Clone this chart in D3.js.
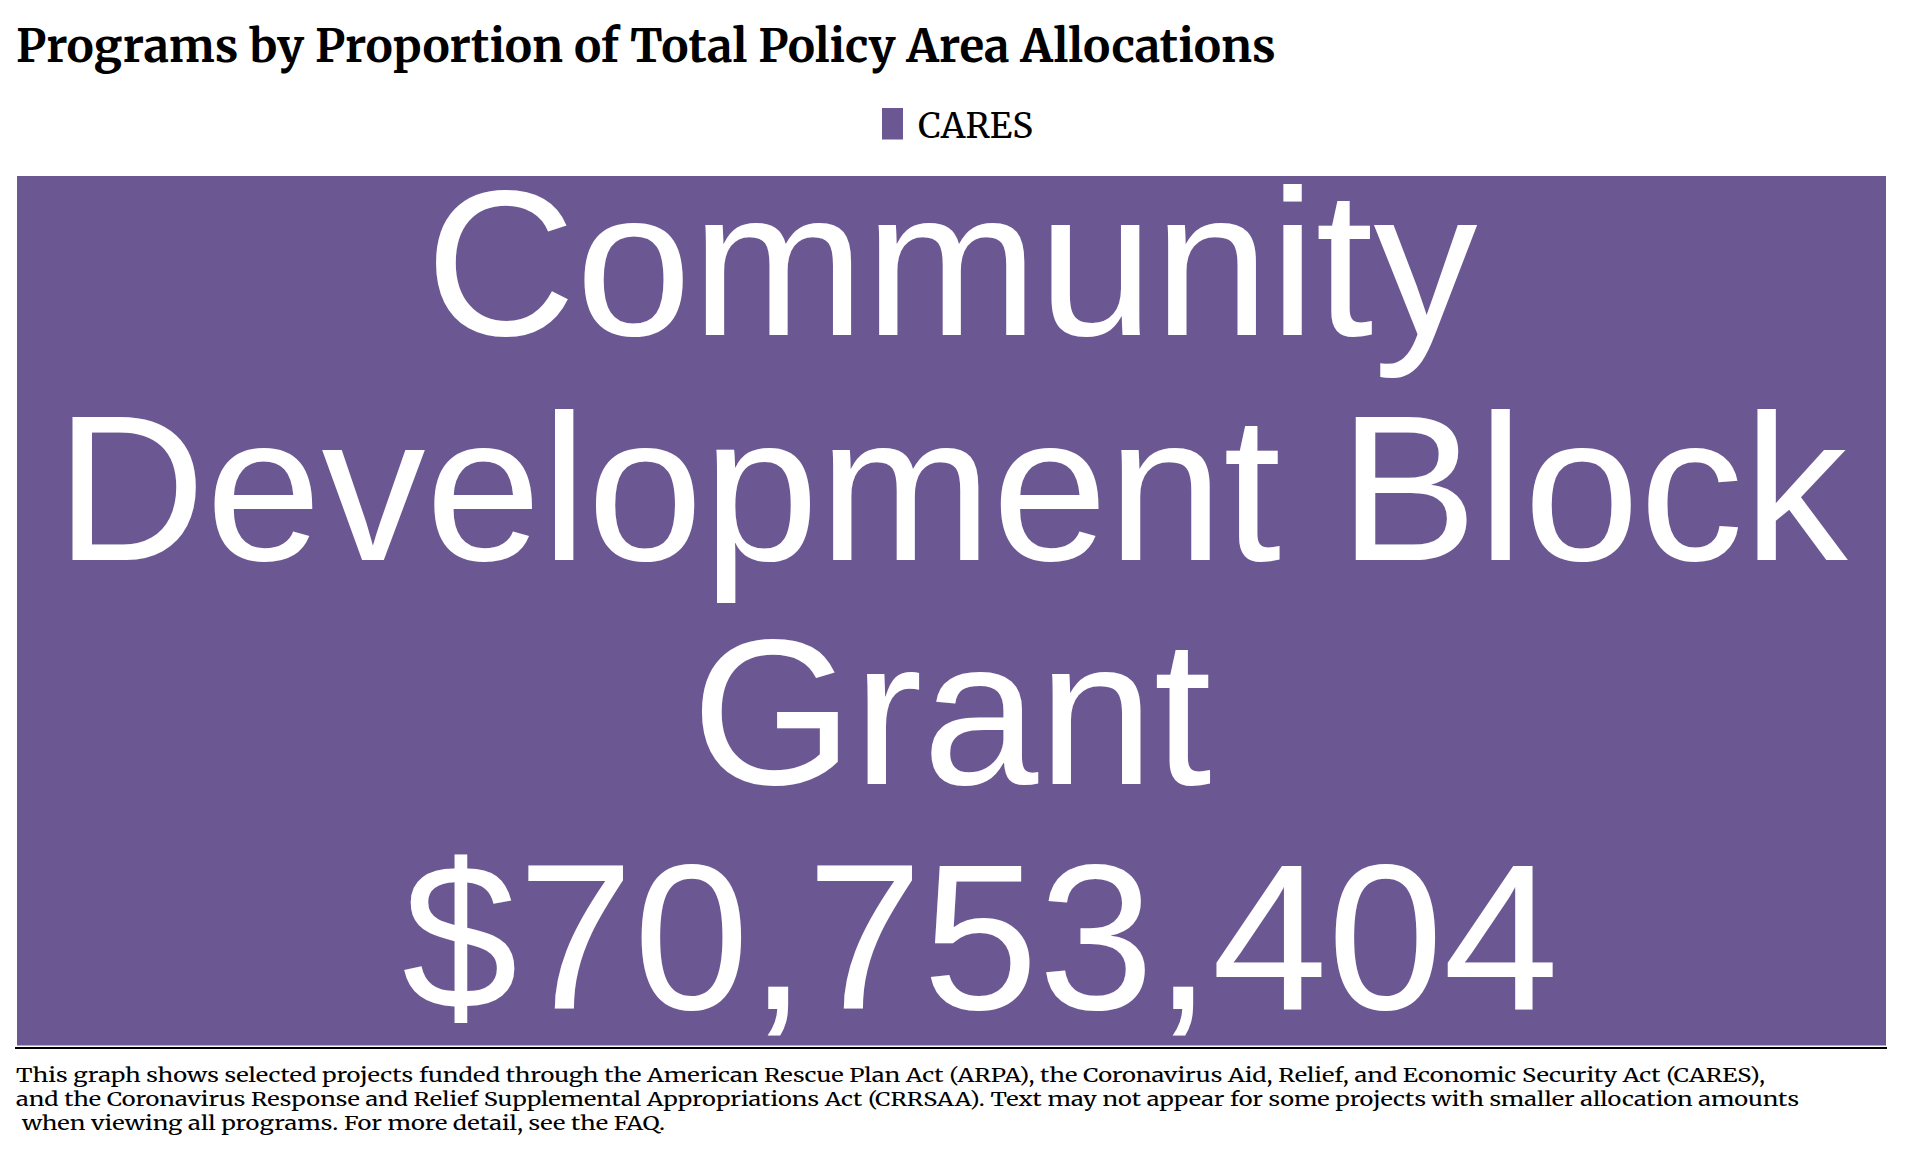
<!DOCTYPE html>
<html>
<head>
<meta charset="utf-8">
<script src="https://cdn.jsdelivr.net/npm/d3@7"></script>
<style>
html,body{margin:0;padding:0;background:#fff;}
svg{display:block;}
</style>
</head>
<body>
<svg id="chart" width="1920" height="1152"></svg>
<script>
// ---- data ----
const categories = ["Community Development Block Grant"];
const seriesNames = ["CARES"];
const values = [70753404];
const seriesOfCategory = ["CARES"];
const titleText = "Programs by Proportion of Total Policy Area Allocations";
const footerLines = [
  "This graph shows selected projects funded through the American Rescue Plan Act (ARPA), the Coronavirus Aid, Relief, and Economic Security Act (CARES),",
  "and the Coronavirus Response and Relief Supplemental Appropriations Act (CRRSAA). Text may not appear for some projects with smaller allocation amounts",
  "when viewing all programs. For more detail, see the FAQ."
];

const svg = d3.select("#chart");
const color = d3.scaleOrdinal().domain(seriesNames).range(["#6b5893"]);
const serif = "Merriweather, 'DejaVu Serif', serif";

function fit(sel, target) {
  const w = sel.node().getComputedTextLength();
  const fs = parseFloat(sel.attr("font-size"));
  sel.attr("font-size", fs * target / w);
}

// title
const title = svg.append("text").attr("x", 16).attr("y", 62)
  .attr("font-family", serif).attr("font-weight", "bold").attr("font-size", 40)
  .attr("fill", "#000").text(titleText);
fit(title, 1260);

// legend
const leg = svg.append("g").selectAll("g").data(seriesNames).join("g");
leg.append("rect").attr("x", 882).attr("y", 108).attr("width", 21).attr("height", 31.5)
  .attr("fill", d => color(d));
const legText = leg.append("text").attr("x", 918).attr("y", 138)
  .attr("font-family", serif).attr("font-size", 30).attr("fill", "#000").text(d => d);
fit(legText, 115);

// treemap
const area = {x0: 17, y0: 176, x1: 1886, y1: 1045.5};
const root = d3.hierarchy({children: categories.map((c, i) => ({name: c, value: values[i], series: seriesOfCategory[i]}))})
  .sum(d => d.value || 0);
d3.treemap().size([area.x1 - area.x0, area.y1 - area.y0]).paddingInner(1).round(false)(root);

const fmt = v => " $" + d3.format(",")(v);
const fontSize = 208;
const lineH = 224.7;

const cells = svg.append("g").attr("transform", `translate(${area.x0},${area.y0})`)
  .selectAll("g").data(root.leaves()).join("g");
cells.append("rect")
  .attr("x", d => d.x0).attr("y", d => d.y0)
  .attr("width", d => d.x1 - d.x0).attr("height", d => d.y1 - d.y0)
  .attr("fill", d => color(d.data.series));

cells.each(function(d) {
  const g = d3.select(this);
  const cw = d.x1 - d.x0, ch = d.y1 - d.y0;
  const cx = d.x0 + cw / 2, cy = d.y0 + ch / 2;
  const t = g.append("text").attr("text-anchor", "middle")
    .attr("font-family", "'Liberation Sans', Arial, Helvetica, sans-serif")
    .attr("font-size", fontSize).attr("fill", "#fff")
    .style("white-space", "pre");
  const words = d.data.name.split(" ");
  const lines = [];
  let cur = "";
  const probe = t.append("tspan");
  words.forEach(w => {
    const test = cur ? cur + " " + w : w;
    probe.text(test);
    if (probe.node().getComputedTextLength() > cw - 20 && cur) { lines.push(cur); cur = w; }
    else cur = test;
  });
  if (cur) lines.push(cur);
  probe.remove();
  lines.push(fmt(d.data.value));
  const n = lines.length;
  const offset = 61.25;
  lines.forEach((l, i) => {
    t.append("tspan").attr("x", cx).attr("y", cy + (i - (n - 1) / 2) * lineH + offset).text(l);
  });
});

// baseline rule
svg.append("line").attr("x1", 15).attr("x2", 1887).attr("y1", 1048).attr("y2", 1048)
  .attr("stroke", "#000").attr("stroke-width", 2.2);

// footer
const fy = [1082, 1106, 1130];
const fx = [16, 16, 22];
const fw = [1749, 1783, 643];
footerLines.forEach((l, i) => {
  svg.append("text").attr("x", fx[i]).attr("y", fy[i])
    .attr("font-family", serif).attr("font-size", 19).attr("fill", "#000")
    .attr("textLength", fw[i]).attr("lengthAdjust", "spacingAndGlyphs").text(l);
});
</script>
</body>
</html>
